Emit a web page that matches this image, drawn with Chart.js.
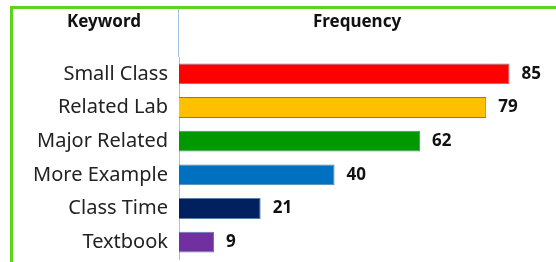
<!DOCTYPE html>
<html>
<head>
<meta charset="utf-8">
<script src="https://cdn.jsdelivr.net/npm/chart.js@4"></script>
<style>
  html, body { margin: 0; padding: 0; background: #fff; }
  #wrap { position: relative; width: 556px; height: 262px; overflow: hidden; }
  #frame {
    position: absolute; left: 10px; top: 6px; width: 543px; height: 270px;
    border-left: 3px solid #5cd41c; border-top: 3px solid #5cd41c;
    border-right: 2px solid #b6eca0;
  }
  canvas { position: absolute; left: 0; top: 0; }
</style>
</head>
<body>
<div id="wrap">
  <div id="frame"></div>
  <canvas id="barChart" width="556" height="262"></canvas>
</div>
<script>
const keywords = ['Small Class', 'Related Lab', 'Major Related', 'More Example', 'Class Time', 'Textbook'];
const frequency = [85, 79, 62, 40, 21, 9];
const barColors = ['#ff0000', '#ffc000', '#009a00', '#0070c0', '#002060', '#7030a0'];
const headers = ['Keyword', 'Frequency'];

const fontName = "'Noto Sans', 'Noto Sans CJK KR', sans-serif";

// headers on top, divider line through header row, value labels next to bars
const textPlugin = {
    id: 'textPlugin',
    afterDatasetsDraw(chart) {
        const c = chart.ctx;
        const axisX = chart.scales.y.right;
        c.save();
        c.strokeStyle = '#9dc3e6';
        c.lineWidth = 1;
        c.beginPath();
        c.moveTo(axisX - 0.5, 9);
        c.lineTo(axisX - 0.5, chart.chartArea.top);
        c.stroke();

        c.fillStyle = '#111';
        c.font = 'bold 17px ' + fontName;
        c.textAlign = 'center';
        c.textBaseline = 'middle';
        c.fillText(headers[0], 104, 22);
        c.fillText(headers[1], 357, 22);

        c.textAlign = 'left';
        chart.getDatasetMeta(0).data.forEach((bar, i) => {
            c.fillText(frequency[i], bar.x + 12, bar.y);
        });
        c.restore();
    }
};

const ctx = document.getElementById('barChart');

new Chart(ctx, {
    type: 'bar',
    data: {
        labels: keywords,
        datasets: [{
            data: frequency,
            backgroundColor: barColors,
            borderColor: '#5a7fa8',
            borderWidth: 1,
            barPercentage: 0.62,
            categoryPercentage: 1
        }]
    },
    options: {
        indexAxis: 'y',
        responsive: false,
        animation: false,
        layout: { padding: { top: 57, right: 27, bottom: 3, left: 0 } },
        plugins: {
            legend: { display: false },
            tooltip: { enabled: false }
        },
        scales: {
            x: { display: false, min: 0, max: 90 },
            y: {
                grid: { display: false, drawTicks: false },
                border: { color: '#9dc3e6', width: 1 },
                ticks: {
                    color: '#222',
                    padding: 11,
                    font: { family: fontName, size: 20 }
                },
                afterFit(scale) {
                    scale.width = 179;
                    scale.paddingTop = 0;
                    scale.paddingBottom = 0;
                }
            }
        }
    },
    plugins: [textPlugin]
});
</script>
</body>
</html>
